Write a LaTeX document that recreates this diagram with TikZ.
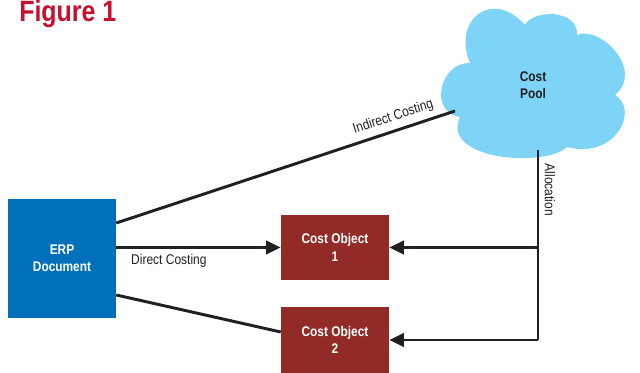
\documentclass[tikz,border=0pt]{standalone}
\usepackage{fontspec}
\setmainfont{Liberation Sans}[FakeStretch=0.85]
\usetikzlibrary{arrows.meta}
\definecolor{erpblue}{HTML}{0070BA}
\definecolor{cored}{HTML}{922A25}
\definecolor{titlered}{HTML}{C8102E}
\definecolor{cloudblue}{HTML}{7DD4F6}
\definecolor{linedark}{HTML}{231F20}
\tikzset{
  boxbase/.style={rectangle, inner sep=0pt, align=center, text=white,
    font=\fontsize{10.5}{13}\selectfont\bfseries},
  erpbox/.style={boxbase, fill=erpblue, minimum width=81pt, minimum height=89.25pt},
  cobox/.style={boxbase, fill=cored, minimum width=81pt, minimum height=48.75pt},
  conn/.style={draw=linedark, line width=2.2pt},
  arr/.style={conn, -{Triangle[length=11pt,width=10pt]}},
  lbl/.style={font=\fontsize{10.6}{12}\selectfont, text=linedark, inner sep=1pt},
}
\begin{document}
\begin{tikzpicture}[x=0.75pt, y=-0.75pt]
\useasboundingbox (0,0) rectangle (640,373);
% title
\node[anchor=north west, inner sep=0pt, text=titlered,
      font=\fontsize{22}{24}\selectfont\bfseries] (title) at (19,0) {Figure 1};
% cloud
\fill[cloudblue] (460,117)
  .. controls (428,112) and (440,62) .. (470,63)
  .. controls (452,20) and (492,-12) .. (525,25)
  .. controls (532,10) and (578,8) .. (577,35)
  .. controls (600,25) and (645,70) .. (615,95)
  .. controls (640,110) and (615,160) .. (567,147)
  .. controls (545,168) and (440,160) .. (460,117) -- cycle;
\node[align=center, text=linedark, inner sep=0pt,
      font=\fontsize{10.5}{13}\selectfont\bfseries] (pool) at (533,85) {Cost\\Pool};
\coordinate (poolL) at (455,111);
\coordinate (poolB) at (538,150);
% boxes
\node[erpbox] (erp) at (62,258.5) {ERP\\Document};
\node[cobox] (co1) at (335,247.5) {Cost Object\\1};
\node[cobox, minimum height=49.5pt] (co2) at (335,340) {Cost Object\\2};
% connectors
\draw[conn] (erp.east |- 0,223) -- (poolL)
  node[lbl, pos=0.83, above=3pt, sloped] {Indirect Costing};
\draw[arr] (erp.east |- co1.west) -- (co1.west)
  node[lbl, pos=0.32, below=3pt] {Direct Costing};
\draw[conn] (erp.east |- 0,295) -- (co2.west |- 0,332);
\coordinate (junc) at (poolB |- co2.east);
\draw[conn] (poolB) -- (junc)
  node[lbl, pos=0.21, above=3pt, sloped] {Allocation};
\draw[arr] (poolB |- co1.east) -- (co1.east);
\draw[arr] (junc) -- (co2.east);
\end{tikzpicture}
\end{document}
